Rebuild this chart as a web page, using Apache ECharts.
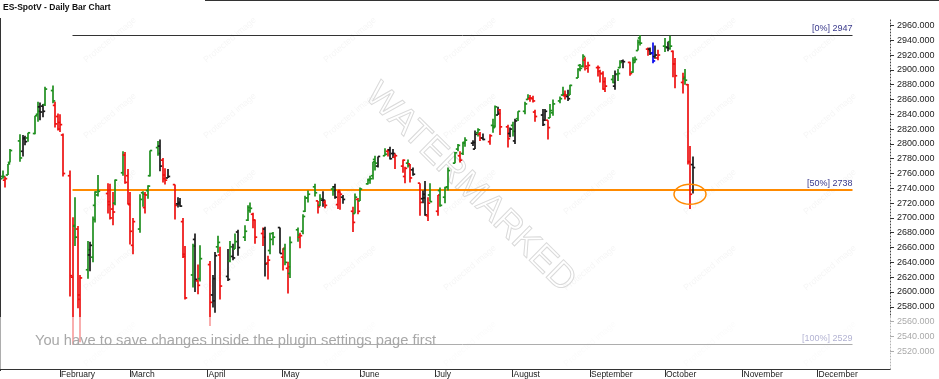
<!DOCTYPE html>
<html>
<head>
<meta charset="utf-8">
<script src="https://cdn.jsdelivr.net/npm/echarts@6/dist/echarts.min.js"></script>
<style>
html,body{margin:0;padding:0;background:#fff;}
#c{width:939px;height:379px;}
</style>
</head>
<body>
<div id="c"></div>
<script>
// ---------------- data ----------------
const dates = [
'2018-01-08','2018-01-09','2018-01-10','2018-01-11','2018-01-12','2018-01-16','2018-01-17','2018-01-18','2018-01-19',
'2018-01-22','2018-01-23','2018-01-24','2018-01-25','2018-01-26','2018-01-29','2018-01-30','2018-01-31',
'2018-02-01','2018-02-02','2018-02-05','2018-02-06','2018-02-07','2018-02-08','2018-02-09','2018-02-12','2018-02-13',
'2018-02-14','2018-02-15','2018-02-16','2018-02-20','2018-02-21','2018-02-22','2018-02-23','2018-02-26','2018-02-27','2018-02-28',
'2018-03-01','2018-03-02','2018-03-05','2018-03-06','2018-03-07','2018-03-08','2018-03-09','2018-03-12','2018-03-13',
'2018-03-14','2018-03-15','2018-03-16','2018-03-19','2018-03-20','2018-03-21','2018-03-22','2018-03-23','2018-03-26',
'2018-03-27','2018-03-28','2018-03-29',
'2018-04-02','2018-04-03','2018-04-04','2018-04-05','2018-04-06','2018-04-09','2018-04-10','2018-04-11','2018-04-12',
'2018-04-13','2018-04-16','2018-04-17','2018-04-18','2018-04-19','2018-04-20','2018-04-23','2018-04-24','2018-04-25',
'2018-04-26','2018-04-27','2018-04-30',
'2018-05-01','2018-05-02','2018-05-03','2018-05-04','2018-05-07','2018-05-08','2018-05-09','2018-05-10','2018-05-11',
'2018-05-14','2018-05-15','2018-05-16','2018-05-17','2018-05-18','2018-05-21','2018-05-22','2018-05-23','2018-05-24',
'2018-05-25','2018-05-29','2018-05-30','2018-05-31',
'2018-06-01','2018-06-04','2018-06-05','2018-06-06','2018-06-07','2018-06-08','2018-06-11','2018-06-12','2018-06-13',
'2018-06-14','2018-06-15','2018-06-18','2018-06-19','2018-06-20','2018-06-21','2018-06-22','2018-06-25','2018-06-26',
'2018-06-27','2018-06-28','2018-06-29',
'2018-07-02','2018-07-03','2018-07-05','2018-07-06','2018-07-09','2018-07-10','2018-07-11','2018-07-12','2018-07-13',
'2018-07-16','2018-07-17','2018-07-18','2018-07-19','2018-07-20','2018-07-23','2018-07-24','2018-07-25','2018-07-26',
'2018-07-27','2018-07-30','2018-07-31',
'2018-08-01','2018-08-02','2018-08-03','2018-08-06','2018-08-07','2018-08-08','2018-08-09','2018-08-10','2018-08-13',
'2018-08-14','2018-08-15','2018-08-16','2018-08-17','2018-08-20','2018-08-21','2018-08-22','2018-08-23','2018-08-24',
'2018-08-27','2018-08-28','2018-08-29','2018-08-30','2018-08-31',
'2018-09-04','2018-09-05','2018-09-06','2018-09-07','2018-09-10','2018-09-11','2018-09-12','2018-09-13','2018-09-14',
'2018-09-17','2018-09-18','2018-09-19','2018-09-20','2018-09-21','2018-09-24','2018-09-25','2018-09-26','2018-09-27',
'2018-09-28',
'2018-10-01','2018-10-02','2018-10-03','2018-10-04','2018-10-05','2018-10-08','2018-10-09','2018-10-10','2018-10-11',
'2018-10-12'
];
const opens = [
2748,2756,2751,2758,2775,2804,2790,2807,2808,
2814,2840,2850,2851,2853,2872,2852,2837,
2820,2812,2757,2620,2689,2685,2596,2630,2650,
2647,2717,2731,2733,2722,2712,2720,2761,2785,2757,
2719,2663,2685,2734,2714,2737,2757,2795,2797,
2778,2758,2754,2745,2719,2719,2695,2651,2623,
2671,2615,2618,
2637,2596,2588,2661,2650,2621,2642,2648,2658,
2681,2674,2697,2714,2705,2697,2679,2685,2639,
2656,2679,2687,
2647,2658,2632,2625,2684,2674,2682,2709,2727,
2742,2723,2717,2724,2721,2739,2742,2718,2735,
2728,2709,2706,2725,
2723,2746,2752,2757,2779,2770,2784,2790,2792,
2787,2782,2770,2756,2774,2773,2765,2747,2726,
2732,2703,2731,
2709,2737,2728,2742,2774,2793,2784,2787,2801,
2801,2793,2815,2813,2808,2803,2825,2822,2839,
2846,2823,2814,
2825,2804,2834,2844,2860,2861,2861,2843,2839,
2832,2832,2835,2842,2858,2866,2865,2864,2866,
2889,2906,2905,2913,2902,
2903,2898,2895,2874,2887,2878,2894,2903,2912,
2910,2897,2913,2926,2943,2928,2928,2923,2918,
2916,
2932,2930,2938,2925,2908,2883,2888,2880,2776,
2772
];
const highs = [
2754,2764,2756,2773,2793,2813,2812,2811,2815,
2838,2857,2856,2854,2877,2879,2857,2841,
2840,2814,2764,2701,2728,2689,2623,2669,2668,
2702,2736,2758,2747,2746,2735,2752,2790,2789,2766,
2735,2700,2732,2736,2735,2744,2791,2804,2806,
2781,2767,2766,2745,2728,2727,2700,2662,2665,
2679,2637,2663,
2642,2623,2654,2676,2661,2658,2669,2665,2679,
2684,2690,2717,2721,2707,2698,2687,2688,2649,
2680,2681,2687,
2659,2665,2641,2675,2687,2680,2705,2730,2737,
2746,2723,2732,2736,2724,2743,2746,2737,2736,
2731,2715,2733,2727,
2741,2753,2757,2776,2784,2783,2794,2793,2796,
2793,2787,2779,2769,2779,2773,2768,2747,2737,
2750,2728,2747,
2731,2741,2742,2768,2789,2800,2790,2803,2809,
2805,2818,2821,2816,2814,2813,2834,2852,2850,
2847,2826,2822,
2830,2834,2844,2857,2867,2866,2865,2846,2847,
2847,2832,2854,2860,2864,2877,2872,2873,2880,
2902,2908,2921,2917,2911,
2906,2900,2898,2890,2893,2899,2901,2913,2914,
2911,2917,2918,2941,2947,2930,2930,2937,2933,
2927,
2943,2938,2946,2926,2916,2896,2901,2881,2797,
2783
];
const lows = [
2743,2753,2741,2758,2775,2776,2783,2798,2803,
2813,2830,2832,2836,2851,2855,2822,2818,
2816,2756,2594,2529,2662,2578,2532,2618,2628,
2640,2694,2729,2706,2698,2690,2717,2757,2746,2718,
2664,2651,2680,2715,2706,2726,2756,2784,2763,
2748,2745,2754,2698,2714,2715,2646,2590,2606,
2600,2597,2614,
2554,2579,2572,2653,2590,2615,2640,2643,2658,
2649,2669,2696,2707,2686,2665,2662,2621,2617,
2651,2663,2652,
2629,2636,2598,2619,2668,2659,2678,2708,2721,
2729,2706,2716,2715,2713,2730,2726,2712,2711,
2719,2681,2706,2705,
2723,2745,2746,2752,2764,2768,2784,2783,2779,
2781,2766,2761,2747,2768,2748,2757,2703,2720,
2703,2696,2722,
2703,2715,2720,2737,2774,2790,2775,2785,2796,
2797,2793,2810,2804,2805,2799,2815,2822,2839,
2812,2795,2809,
2810,2800,2831,2840,2860,2857,2856,2830,2824,
2831,2806,2835,2838,2855,2865,2860,2858,2866,
2889,2898,2903,2899,2896,
2891,2883,2873,2870,2882,2873,2885,2902,2902,
2892,2896,2910,2926,2933,2919,2920,2909,2915,
2913,
2924,2925,2927,2890,2875,2868,2880,2772,2712,
2733
];
const closes = [
2753,2756,2753,2773,2791,2781,2808,2803,2815,
2838,2844,2843,2844,2874,2858,2827,2829,
2826,2760,2622,2690,2674,2590,2619,2657,2663,
2698,2735,2736,2718,2700,2708,2751,2785,2748,2718,
2682,2695,2725,2732,2731,2743,2791,2787,2770,
2753,2751,2756,2717,2721,2716,2648,2592,2662,
2617,2609,2645,
2586,2618,2649,2667,2608,2617,2661,2646,2668,
2660,2682,2710,2713,2697,2674,2674,2638,2643,
2671,2674,2652,
2659,2640,2634,2667,2677,2676,2702,2727,2732,
2734,2715,2726,2724,2717,2737,2728,2737,2732,
2725,2694,2728,2709,
2739,2751,2753,2776,2774,2783,2786,2791,2780,
2787,2784,2778,2767,2771,2754,2759,2721,2727,
2704,2720,2722,
2731,2717,2741,2764,2788,2798,2778,2802,2805,
2802,2813,2819,2808,2806,2811,2824,2850,2841,
2823,2807,2820,
2817,2831,2844,2854,2862,2862,2858,2837,2826,
2844,2822,2845,2854,2861,2867,2866,2861,2879,
2901,2902,2918,2905,2906,
2903,2895,2884,2878,2883,2894,2895,2910,2911,
2895,2910,2914,2937,2936,2926,2922,2912,2920,
2920,
2931,2929,2932,2908,2892,2890,2886,2776,2732,
2768
];
// bars the chart marks separately (drawn blue)
const markedBars = ['2018-09-26'];

// axis ticks / labels
const yTicks = [2520,2540,2560,2580,2600,2620,2640,2660,2680,2700,2720,2740,2760,2780,2800,2820,2840,2860,2880,2900,2920,2940,2960];
const monthStarts = ['2018-02-01','2018-03-01','2018-04-01','2018-05-01','2018-06-01','2018-07-01','2018-08-01','2018-09-01','2018-10-01','2018-11-01','2018-12-01'];
const monthNames = ['February','March','April','May','June','July','August','September','October','November','December'];
const xRange = ['2018-01-08', '2018-12-30'];

// retracement levels
const fibPct = ['0%','50%','100%'];
const fibValues = [2947, 2738, 2529];
const fibStart = '2018-02-06';
const fibEnd = '2018-12-15';
const circleDate = '2018-10-11';
const circleValue = 2732;

const titleText = 'ES-SpotV - Daily Bar Chart';
const noticeText = 'You have to save changes inside the plugin settings page first';
const watermarkText = 'WATERMARKED';

// ---------------- chart ----------------
const ts = s => Date.parse(s + 'T00:00:00Z');
const COLORS = {up:'#1f8f1f', down:'#ee1111', flat:'#1a1a1a', mark:'#0a0aee'};
const barColors = dates.map((d, i) => {
  if (markedBars.indexOf(d) >= 0) return COLORS.mark;
  if (i === 0) return COLORS.up;
  const hh = highs[i] > highs[i-1], hl = lows[i] > lows[i-1];
  const lh = highs[i] < highs[i-1], ll = lows[i] < lows[i-1];
  if (hh && hl) return COLORS.up;
  if (lh && ll) return COLORS.down;
  return COLORS.flat;
});
const ohlc = dates.map((d, i) => [ts(d), opens[i], highs[i], lows[i], closes[i]]);
const monthTs = monthStarts.map(ts);

const chart = echarts.init(document.getElementById('c'), null, {renderer: 'canvas'});
const FONT = 'Liberation Sans';

const fibLineColors = ['#333333', '#ff8a00', '#333333'];
const fibLineWidths = [1, 2, 1];

const option = {
  animation: false,
  backgroundColor: '#ffffff',
  grid: {left: 0, right: 49, top: 18, bottom: 8, containLabel: false},
  xAxis: {
    type: 'value',
    min: ts(xRange[0]),
    max: ts(xRange[1]),
    splitLine: {show: false},
    axisLine: {show: true, lineStyle: {color: '#333', width: 1}},
    axisTick: {show: true, customValues: monthTs, length: 8, lineStyle: {color: '#333'}},
    axisLabel: {
      show: true, customValues: monthTs, margin: 1, align: 'left', verticalAlign: 'top',
      padding: [0, 0, 0, 1], color: '#1a1a1a', fontSize: 8.5, fontFamily: FONT,
      formatter: v => { const k = monthTs.indexOf(v); return k >= 0 ? monthNames[k] : ''; }
    }
  },
  yAxis: {
    type: 'value', position: 'right', min: 2496, max: 2970,
    splitLine: {show: false},
    axisLine: {show: true, lineStyle: {color: '#444', width: 1, type: [1, 2]}},
    axisTick: {show: true, customValues: yTicks, length: 4, lineStyle: {color: '#333'}},
    axisLabel: {
      show: true, customValues: yTicks, margin: 7, color: '#222', fontSize: 9, fontFamily: FONT,
      formatter: v => Number(v).toFixed(3)
    }
  },
  series: [
    {
      type: 'custom',
      clip: true,
      z: 5,
      data: ohlc,
      encode: {x: 0, y: [1, 2, 3, 4]},
      renderItem: function (params, api) {
        const t = api.value(0);
        const pO = api.coord([t, api.value(1)]);
        const pH = api.coord([t, api.value(2)]);
        const pL = api.coord([t, api.value(3)]);
        const pC = api.coord([t, api.value(4)]);
        const x = Math.round(pO[0]);
        const col = barColors[params.dataIndex];
        const st = {stroke: col, lineWidth: 1.7};
        return {
          type: 'group',
          children: [
            {type: 'line', shape: {x1: x, y1: pH[1], x2: x, y2: pL[1]}, style: st},
            {type: 'line', shape: {x1: x - 2.2, y1: pO[1], x2: x, y2: pO[1]}, style: st},
            {type: 'line', shape: {x1: x, y1: pC[1], x2: x + 2.2, y2: pC[1]}, style: st}
          ]
        };
      }
    },
    {
      type: 'line',
      data: [],
      silent: true,
      z: 4,
      markLine: {
        silent: true,
        symbol: ['none', 'none'],
        animation: false,
        data: fibValues.map((v, k) => [
          {coord: [ts(fibStart), v], lineStyle: {color: fibLineColors[k], width: fibLineWidths[k], type: 'solid'},
           label: {show: true, position: 'insideEndTop', distance: [0, 2], formatter: '[' + fibPct[k] + '] ' + v,
                   color: '#3a3a8c', fontSize: 9, fontFamily: FONT}},
          {coord: [ts(fibEnd), v]}
        ])
      }
    }
  ]
};
chart.setOption(option);

// annotations placed through the chart's own coordinate conversion
const cpos = chart.convertToPixel({gridIndex: 0}, [ts(circleDate), circleValue]);
const wm = [];
for (let gy = 40; gy < 379; gy += 76) {
  for (let gx = 110; gx < 939; gx += 120) {
    wm.push({type: 'text', x: gx, y: gy, rotation: 0.7, z: 1, silent: true,
      style: {text: 'Protected image', font: '9px ' + FONT, fill: 'rgba(0,0,0,0.045)', align: 'center', verticalAlign: 'middle'}});
  }
}
chart.setOption({
  graphic: wm.concat([
    {type: 'text', x: 470, y: 188, rotation: -0.78, z: 2, silent: true,
      style: {text: watermarkText, font: '36px ' + FONT, fill: 'rgba(255,255,255,0)', stroke: '#dadada', lineWidth: 1,
              align: 'center', verticalAlign: 'middle'}},
    {type: 'text', left: 3, top: 3, z: 50,
      style: {text: titleText, font: 'bold 8.5px ' + FONT, fill: '#111'}},
    {type: 'line', z: 50, shape: {x1: 0.5, y1: 18, x2: 0.5, y2: 371}, style: {stroke: '#333', lineWidth: 1}},
    {type: 'line', z: 50, shape: {x1: 205, y1: 0.5, x2: 939, y2: 0.5}, style: {stroke: '#333', lineWidth: 1}},
    {type: 'ellipse', z: 60, shape: {cx: cpos[0], cy: cpos[1], rx: 16, ry: 10},
      style: {fill: 'none', stroke: '#ff8a00', lineWidth: 1.5}},
    {type: 'rect', z: 100, shape: {x: 0, y: 317, width: 939, height: 52}, style: {fill: 'rgba(255,255,255,0.6)'}},
    {type: 'text', x: 35, y: 333, z: 101,
      style: {text: noticeText, font: '14.7px ' + FONT, fill: '#a8a8a8'}}
  ])
});
</script>
</body>
</html>
